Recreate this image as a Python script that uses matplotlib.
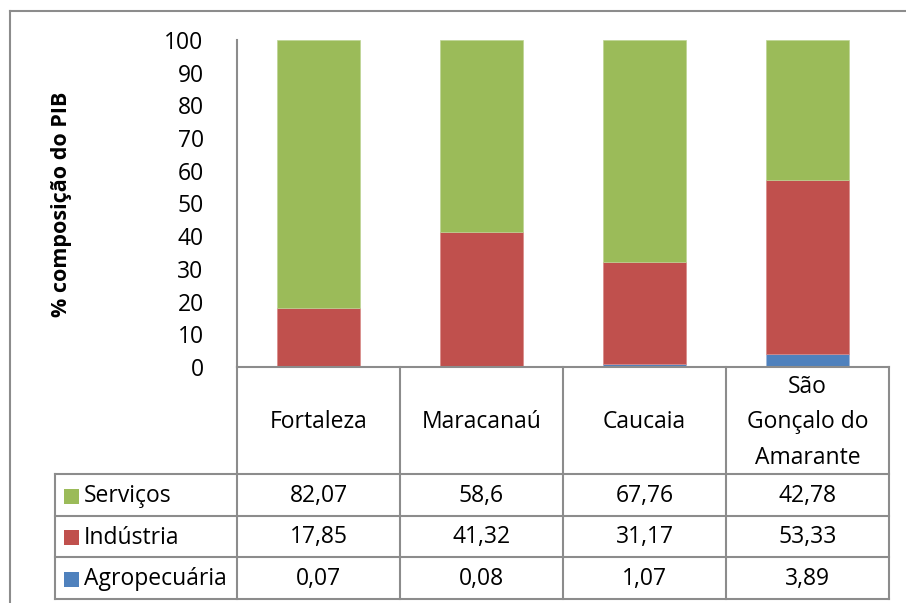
import matplotlib
matplotlib.use('Agg')
import matplotlib.pyplot as plt
from matplotlib.lines import Line2D
from matplotlib.patches import Rectangle
import numpy as np

# data
cidades = ['Fortaleza', 'Maracanaú', 'Caucaia', 'São\nGonçalo do\nAmarante']
agropecuaria = [0.07, 0.08, 1.07, 3.89]
industria = [17.85, 41.32, 31.17, 53.33]
servicos = [82.07, 58.6, 67.76, 42.78]
series_names = ['Serviços', 'Indústria', 'Agropecuária']
colors = {'Serviços': '#9BBB59', 'Indústria': '#C0504D', 'Agropecuária': '#4F81BD'}

plt.rcParams['font.family'] = ['Open Sans', 'DejaVu Sans']

W, H = 906, 603
fig = plt.figure(figsize=(W / 100, H / 100), dpi=100)

def fx(px):
    return px / W

def fy(py):
    return 1 - py / H

grid_color = '#8c8c8c'
fs = 16.5

# plot area
x0, x1, ytop, ybot = 237, 889, 40, 367
ax = fig.add_axes([fx(x0), fy(ybot), fx(x1 - x0), (ybot - ytop) / H])
x = np.arange(len(cidades))
agro = np.array(agropecuaria)
ind = np.array(industria)
serv = np.array(servicos)
ax.bar(x, agro, 0.515, color=colors['Agropecuária'], edgecolor='#9db6d8', linewidth=0.5)
ax.bar(x, ind, 0.515, bottom=agro, color=colors['Indústria'], edgecolor='#d88a88', linewidth=0.5)
ax.bar(x, serv, 0.515, bottom=agro + ind, color=colors['Serviços'], edgecolor='#bdd494', linewidth=0.5)
ax.set_xlim(-0.5, len(cidades) - 0.5)
ax.set_ylim(0, 100)
ax.set_yticks(range(0, 101, 10))
ax.tick_params(axis='y', length=0, pad=24, labelsize=fs)
ax.set_xticks([])
for s in ['top', 'right', 'bottom']:
    ax.spines[s].set_visible(False)
ax.spines['left'].set_color(grid_color)
ax.spines['left'].set_linewidth(1.5)

fig.text(fx(61), fy(204), '% composição do PIB', rotation=90, ha='center', va='center',
         fontsize=15.5, fontweight='bold')

# outer chart border (top and left)
fig.add_artist(Line2D([fx(10), fx(906)], [fy(11), fy(11)], color=grid_color, lw=1.5))
fig.add_artist(Line2D([fx(10), fx(10)], [fy(11), fy(603)], color=grid_color, lw=1.5))

# data table
col_edges = [237, 400, 563, 726, 889]
row_edges = [367, 474, 516, 557, 599]
label_left = 55

def hline(y, xa, xb):
    fig.add_artist(Line2D([fx(xa), fx(xb)], [fy(y), fy(y)], color=grid_color, lw=1.5))

def vline(xp, ya, yb):
    fig.add_artist(Line2D([fx(xp), fx(xp)], [fy(ya), fy(yb)], color=grid_color, lw=1.5))

hline(row_edges[0], col_edges[0], col_edges[-1])
for r in row_edges[1:]:
    hline(r, label_left, col_edges[-1])
for c in col_edges:
    vline(c, row_edges[0], row_edges[-1])
vline(label_left, row_edges[1], row_edges[-1])

for i, name in enumerate(cidades):
    cx = (col_edges[i] + col_edges[i + 1]) / 2
    cy = (row_edges[0] + row_edges[1]) / 2 + 2
    fig.text(fx(cx), fy(cy), name, ha='center', va='center', fontsize=fs, linespacing=1.62)

table_rows = [servicos, industria, agropecuaria]
for r, (name, vals) in enumerate(zip(series_names, table_rows)):
    cy = (row_edges[r + 1] + row_edges[r + 2]) / 2 + 1
    fig.add_artist(Rectangle((fx(64), fy(cy + 7.5)), fx(15), 15 / H,
                             facecolor=colors[name], edgecolor='none'))
    fig.text(fx(84), fy(cy), name, ha='left', va='center', fontsize=fs)
    for i, v in enumerate(vals):
        cx = (col_edges[i] + col_edges[i + 1]) / 2
        fig.text(fx(cx), fy(cy), str(v).replace('.', ','), ha='center', va='center', fontsize=fs)

fig.savefig('out.png', dpi=100)
